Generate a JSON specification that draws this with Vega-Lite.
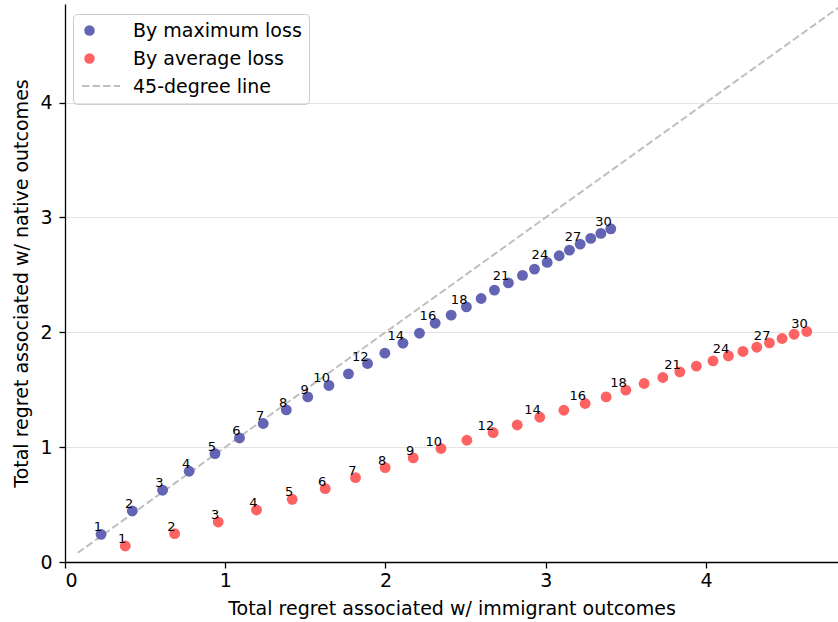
{
  "$schema": "https://vega.github.io/schema/vega-lite/v6.json",
  "width": 773,
  "height": 558,
  "autosize": "none",
  "padding": {"left": 65, "top": 4, "right": 0, "bottom": 60},
  "background": "white",
  "config": {
    "view": {"stroke": null},
    "font": "DejaVu Sans",
    "axis": {
      "labelFont": "DejaVu Sans",
      "titleFont": "DejaVu Sans",
      "labelFontSize": 19,
      "titleFontSize": 19,
      "titleFontWeight": "normal",
      "labelColor": "black",
      "titleColor": "black",
      "domainColor": "black",
      "domainWidth": 1.3,
      "tickColor": "black",
      "tickWidth": 1.3,
      "tickSize": 6
    }
  },
  "datasets": {
    "pts": [
      {"series": "By maximum loss", "k": 1, "x": 0.225, "y": 0.241, "lab": "1"},
      {"series": "By maximum loss", "k": 2, "x": 0.420, "y": 0.444, "lab": "2"},
      {"series": "By maximum loss", "k": 3, "x": 0.609, "y": 0.625, "lab": "3"},
      {"series": "By maximum loss", "k": 4, "x": 0.775, "y": 0.790, "lab": "4"},
      {"series": "By maximum loss", "k": 5, "x": 0.936, "y": 0.944, "lab": "5"},
      {"series": "By maximum loss", "k": 6, "x": 1.089, "y": 1.080, "lab": "6"},
      {"series": "By maximum loss", "k": 7, "x": 1.237, "y": 1.206, "lab": "7"},
      {"series": "By maximum loss", "k": 8, "x": 1.381, "y": 1.324, "lab": "8"},
      {"series": "By maximum loss", "k": 9, "x": 1.515, "y": 1.437, "lab": "9"},
      {"series": "By maximum loss", "k": 10, "x": 1.647, "y": 1.537, "lab": "10"},
      {"series": "By maximum loss", "k": 11, "x": 1.769, "y": 1.638, "lab": ""},
      {"series": "By maximum loss", "k": 12, "x": 1.888, "y": 1.728, "lab": "12"},
      {"series": "By maximum loss", "k": 13, "x": 1.996, "y": 1.818, "lab": ""},
      {"series": "By maximum loss", "k": 14, "x": 2.109, "y": 1.905, "lab": "14"},
      {"series": "By maximum loss", "k": 15, "x": 2.212, "y": 1.992, "lab": ""},
      {"series": "By maximum loss", "k": 16, "x": 2.310, "y": 2.079, "lab": "16"},
      {"series": "By maximum loss", "k": 17, "x": 2.410, "y": 2.149, "lab": ""},
      {"series": "By maximum loss", "k": 18, "x": 2.505, "y": 2.221, "lab": "18"},
      {"series": "By maximum loss", "k": 19, "x": 2.597, "y": 2.294, "lab": ""},
      {"series": "By maximum loss", "k": 20, "x": 2.680, "y": 2.367, "lab": ""},
      {"series": "By maximum loss", "k": 21, "x": 2.767, "y": 2.430, "lab": "21"},
      {"series": "By maximum loss", "k": 22, "x": 2.855, "y": 2.495, "lab": ""},
      {"series": "By maximum loss", "k": 23, "x": 2.930, "y": 2.550, "lab": ""},
      {"series": "By maximum loss", "k": 24, "x": 3.009, "y": 2.608, "lab": "24"},
      {"series": "By maximum loss", "k": 25, "x": 3.084, "y": 2.666, "lab": ""},
      {"series": "By maximum loss", "k": 26, "x": 3.148, "y": 2.715, "lab": ""},
      {"series": "By maximum loss", "k": 27, "x": 3.215, "y": 2.767, "lab": "27"},
      {"series": "By maximum loss", "k": 28, "x": 3.281, "y": 2.817, "lab": ""},
      {"series": "By maximum loss", "k": 29, "x": 3.344, "y": 2.861, "lab": ""},
      {"series": "By maximum loss", "k": 30, "x": 3.406, "y": 2.901, "lab": "30"},
      {"series": "By average loss", "k": 1, "x": 0.376, "y": 0.139, "lab": "1"},
      {"series": "By average loss", "k": 2, "x": 0.684, "y": 0.247, "lab": "2"},
      {"series": "By average loss", "k": 3, "x": 0.956, "y": 0.348, "lab": "3"},
      {"series": "By average loss", "k": 4, "x": 1.195, "y": 0.453, "lab": "4"},
      {"series": "By average loss", "k": 5, "x": 1.418, "y": 0.546, "lab": "5"},
      {"series": "By average loss", "k": 6, "x": 1.624, "y": 0.639, "lab": "6"},
      {"series": "By average loss", "k": 7, "x": 1.813, "y": 0.735, "lab": "7"},
      {"series": "By average loss", "k": 8, "x": 1.998, "y": 0.822, "lab": "8"},
      {"series": "By average loss", "k": 9, "x": 2.173, "y": 0.906, "lab": "9"},
      {"series": "By average loss", "k": 10, "x": 2.346, "y": 0.988, "lab": "10"},
      {"series": "By average loss", "k": 11, "x": 2.508, "y": 1.060, "lab": ""},
      {"series": "By average loss", "k": 12, "x": 2.672, "y": 1.127, "lab": "12"},
      {"series": "By average loss", "k": 13, "x": 2.822, "y": 1.193, "lab": ""},
      {"series": "By average loss", "k": 14, "x": 2.963, "y": 1.260, "lab": "14"},
      {"series": "By average loss", "k": 15, "x": 3.113, "y": 1.321, "lab": ""},
      {"series": "By average loss", "k": 16, "x": 3.246, "y": 1.380, "lab": "16"},
      {"series": "By average loss", "k": 17, "x": 3.377, "y": 1.437, "lab": ""},
      {"series": "By average loss", "k": 18, "x": 3.500, "y": 1.496, "lab": "18"},
      {"series": "By average loss", "k": 19, "x": 3.614, "y": 1.554, "lab": ""},
      {"series": "By average loss", "k": 20, "x": 3.731, "y": 1.606, "lab": ""},
      {"series": "By average loss", "k": 21, "x": 3.837, "y": 1.655, "lab": "21"},
      {"series": "By average loss", "k": 22, "x": 3.940, "y": 1.705, "lab": ""},
      {"series": "By average loss", "k": 23, "x": 4.044, "y": 1.751, "lab": ""},
      {"series": "By average loss", "k": 24, "x": 4.140, "y": 1.794, "lab": "24"},
      {"series": "By average loss", "k": 25, "x": 4.231, "y": 1.833, "lab": ""},
      {"series": "By average loss", "k": 26, "x": 4.317, "y": 1.870, "lab": ""},
      {"series": "By average loss", "k": 27, "x": 4.396, "y": 1.908, "lab": "27"},
      {"series": "By average loss", "k": 28, "x": 4.475, "y": 1.946, "lab": ""},
      {"series": "By average loss", "k": 29, "x": 4.550, "y": 1.983, "lab": ""},
      {"series": "By average loss", "k": 30, "x": 4.629, "y": 2.007, "lab": "30"}
    ],
    "diag": [
      {"series": "45-degree line", "x": 0.08, "y": 0.08},
      {"series": "45-degree line", "x": 4.83, "y": 4.83}
    ]
  },
  "layer": [
    {
      "data": {"name": "diag"},
      "mark": {"type": "line", "strokeWidth": 2, "clip": true, "color": "#bfbfbf"},
      "encoding": {
        "x": {"field": "x", "type": "quantitative"},
        "y": {"field": "y", "type": "quantitative"},
        "strokeDash": {
          "field": "series", "type": "nominal",
          "scale": {"domain": ["45-degree line"], "range": [[7.4, 3.2]]},
          "legend": {
            "title": null,
            "orient": "none",
            "legendX": 16,
            "legendY": 62,
            "padding": 0,
            "symbolType": "stroke",
            "symbolSize": 1444,
            "symbolStrokeWidth": 2,
            "symbolStrokeColor": "#bfbfbf",
            "labelExpr": "''",
            "labelFontSize": 1,
            "labelOffset": 0
          }
        }
      }
    },
    {
      "data": {"name": "pts"},
      "mark": {"type": "point", "filled": true, "opacity": 1, "size": 118},
      "encoding": {
        "x": {
          "field": "x", "type": "quantitative",
          "scale": {"domain": [0, 4.824], "nice": false, "zero": false},
          "axis": {"values": [0, 1, 2, 3, 4], "grid": false, "title": "Total regret associated w/ immigrant outcomes", "labelPadding": 3, "titlePadding": 9, "format": "d"}
        },
        "y": {
          "field": "y", "type": "quantitative",
          "scale": {"domain": [0, 4.858], "nice": false, "zero": false},
          "axis": {"values": [0, 1, 2, 3, 4], "grid": true, "gridColor": "#e3e3e3", "gridWidth": 1, "title": "Total regret associated w/ native outcomes", "labelPadding": 7, "titlePadding": 8, "format": "d"}
        },
        "color": {
          "field": "series", "type": "nominal",
          "scale": {
            "domain": ["By maximum loss", "By average loss", "45-degree line"],
            "range": ["#6464b4", "#ff6262", "transparent"]
          },
          "legend": {
            "title": null,
            "orient": "none",
            "legendX": 8,
            "legendY": 10,
            "labelFont": "DejaVu Sans",
            "labelFontSize": 19,
            "labelColor": "black",
            "symbolSize": 110,
            "labelOffset": 34,
            "rowPadding": 8,
            "padding": 7,
            "strokeColor": "#cccccc",
            "cornerRadius": 4,
            "labelLimit": 400
          }
        }
      }
    },
    {
      "data": {"name": "pts"},
      "mark": {"type": "text", "align": "right", "baseline": "bottom", "dx": 1, "dy": 0, "fontSize": 13, "font": "DejaVu Sans", "color": "black"},
      "encoding": {
        "x": {"field": "x", "type": "quantitative"},
        "y": {"field": "y", "type": "quantitative"},
        "text": {"field": "lab"}
      }
    }
  ]
}
